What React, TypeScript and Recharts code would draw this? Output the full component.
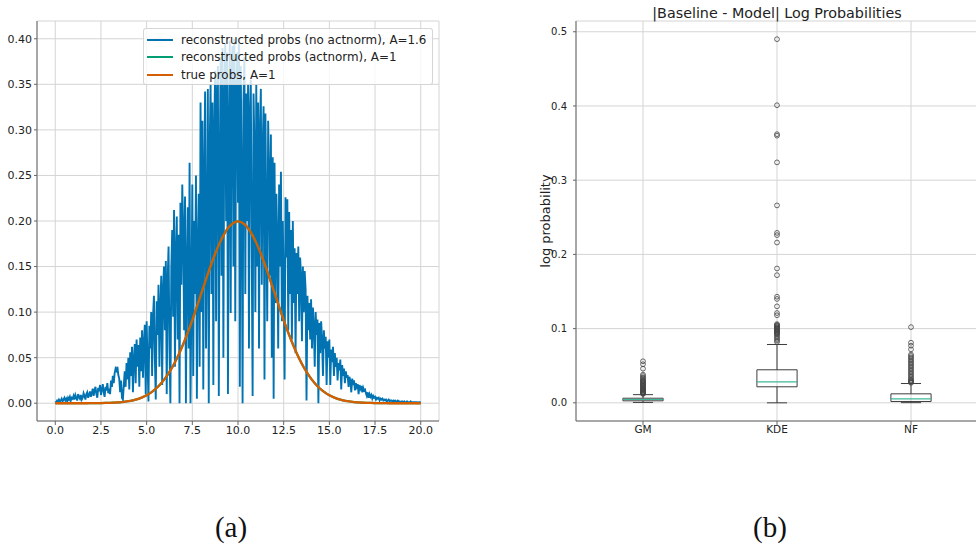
import React from 'react';
import {
  LineChart,
  Line,
  XAxis,
  YAxis,
  CartesianGrid,
  ReferenceArea,
  ReferenceLine,
  ComposedChart,
  Scatter,
} from 'recharts';

// ---------- Left panel (a) ----------
const xStepNoActnorm = 0.05;
const noActnormProbs = [
  0.002,0.001,0.003,0.002,0.004,0.002,0.003,0.005,0.002,0.004,0.006,0.003,0.005,0.002,0.006,0.004,0.007,0.003,0.006,0.005,
  0.008,0.004,0.009,0.006,0.003,0.010,0.007,0.005,0.009,0.004,0.006,0.011,0.008,0.004,0.010,0.012,0.006,0.009,0.013,0.007,
  0.011,0.016,0.008,0.014,0.018,0.010,0.006,0.017,0.013,0.020,0.009,0.015,0.021,0.012,0.007,0.018,0.014,0.022,0.011,0.016,
  0.010,0.025,0.018,0.030,0.022,0.033,0.038,0.036,0.040,0.031,0.027,0.012,0.025,0.006,0.004,0.020,0.035,0.018,0.044,0.026,
  0.050,0.015,0.056,0.030,0.062,0.012,0.048,0.065,0.022,0.070,0.040,0.064,0.018,0.072,0.035,0.080,0.028,0.066,0.086,0.010,
  0.090,0.045,0.002,0.085,0.060,0.100,0.030,0.095,0.118,0.050,0.004,0.112,0.075,0.130,0.040,0.105,0.140,0.020,0.125,0.150,
  0.080,0.156,0.010,0.135,0.172,0.060,0.000,0.148,0.190,0.095,0.212,0.040,0.165,0.205,0.070,0.185,0.000,0.220,0.130,0.240,
  0.190,0.080,0.227,0.000,0.150,0.215,0.060,0.264,0.000,0.110,0.240,0.030,0.200,0.120,0.250,0.005,0.170,0.230,0.040,0.330,
  0.100,0.310,0.015,0.250,0.342,0.060,0.180,0.345,0.000,0.280,0.350,0.120,0.330,0.020,0.300,0.365,0.090,0.340,0.370,0.008,
  0.260,0.380,0.140,0.390,0.050,0.330,0.395,0.200,0.385,0.010,0.300,0.398,0.099,0.360,0.392,0.150,0.400,0.090,0.340,0.385,
  0.220,0.395,0.018,0.370,0.250,0.000,0.330,0.380,0.120,0.340,0.200,0.350,0.060,0.320,0.355,0.170,0.008,0.340,0.280,0.100,
  0.350,0.150,0.330,0.060,0.300,0.345,0.130,0.280,0.326,0.026,0.318,0.200,0.090,0.310,0.250,0.140,0.295,0.050,0.270,0.005,
  0.264,0.110,0.230,0.180,0.060,0.240,0.150,0.254,0.090,0.200,0.130,0.026,0.226,0.160,0.224,0.080,0.210,0.120,0.190,0.070,
  0.200,0.110,0.170,0.055,0.165,0.120,0.172,0.090,0.160,0.140,0.068,0.150,0.100,0.145,0.125,0.003,0.118,0.080,0.110,0.070,
  0.114,0.060,0.105,0.085,0.040,0.100,0.075,0.092,0.000,0.088,0.055,0.090,0.070,0.030,0.080,0.060,0.073,0.020,0.068,0.050,
  0.070,0.020,0.059,0.045,0.062,0.030,0.055,0.040,0.050,0.025,0.044,0.036,0.048,0.015,0.042,0.030,0.038,0.022,0.035,0.028,
  0.031,0.018,0.029,0.024,0.012,0.027,0.020,0.025,0.014,0.022,0.018,0.021,0.010,0.020,0.016,0.019,0.012,0.017,0.014,0.015,
  0.011,0.008,0.012,0.006,0.010,0.007,0.009,0.005,0.008,0.006,0.007,0.004,0.006,0.005,0.006,0.003,0.005,0.004,0.005,0.003,
  0.004,0.003,0.004,0.002,0.003,0.004,0.002,0.003,0.003,0.002,0.003,0.002,0.003,0.002,0.002,0.003,0.002,0.002,0.001,0.002,
  0.002,0.001,0.002,0.001,0.001,0.002,0.001,0.001,0.001,0.002,0.001,0.001,0.001,0.001,0.001,0.001,0.001,0.000,0.001,0.001,
  0.001,
];

const xStepTrue = 0.25;
const trueProbs = [
  0.0000,0.0000,0.0000,0.0000,0.0000,0.0000,0.0000,0.0000,0.0001,0.0001,0.0002,0.0003,0.0004,0.0007,0.0010,0.0015,
  0.0022,0.0032,0.0045,0.0064,0.0088,0.0119,0.0159,0.0209,0.0270,0.0344,0.0431,0.0533,0.0648,0.0775,0.0913,0.1059,
  0.1210,0.1360,0.1506,0.1641,0.1760,0.1859,0.1933,0.1979,0.1995,
  0.1979,0.1933,0.1859,0.1760,0.1641,0.1506,0.1360,0.1210,0.1059,0.0913,0.0775,0.0648,0.0533,0.0431,0.0344,0.0270,
  0.0209,0.0159,0.0119,0.0088,0.0064,0.0045,0.0032,0.0022,0.0015,0.0010,0.0007,0.0004,0.0003,0.0002,0.0001,0.0001,
  0.0000,0.0000,0.0000,0.0000,0.0000,0.0000,0.0000,0.0000,
];
const actnormProbs = [
  0.0000,0.0000,0.0000,0.0000,0.0000,0.0000,0.0000,0.0000,0.0001,0.0001,0.0002,0.0003,0.0004,0.0007,0.0010,0.0015,
  0.0022,0.0032,0.0045,0.0064,0.0088,0.0119,0.0159,0.0209,0.0270,0.0344,0.0431,0.0533,0.0648,0.0775,0.0913,0.1059,
  0.1210,0.1360,0.1506,0.1641,0.1760,0.1859,0.1933,0.1979,0.1995,
  0.1979,0.1933,0.1859,0.1760,0.1641,0.1506,0.1360,0.1210,0.1059,0.0913,0.0775,0.0648,0.0533,0.0431,0.0344,0.0270,
  0.0209,0.0159,0.0119,0.0088,0.0064,0.0045,0.0032,0.0022,0.0015,0.0010,0.0007,0.0004,0.0003,0.0002,0.0001,0.0001,
  0.0000,0.0000,0.0000,0.0000,0.0000,0.0000,0.0000,0.0000,
];

const leftXTicks = [0, 2.5, 5, 7.5, 10, 12.5, 15, 17.5, 20];
const leftYTicks = [0, 0.05, 0.1, 0.15, 0.2, 0.25, 0.3, 0.35, 0.4];

const legendItems = [
  { label: 'reconstructed probs (no actnorm), A=1.6', color: '#0173b2' },
  { label: 'reconstructed probs (actnorm), A=1', color: '#029e73' },
  { label: 'true probs, A=1', color: '#d55e00' },
];

const noActnormData = noActnormProbs.map((y, i) => ({ x: i * xStepNoActnorm, y }));
const trueData = trueProbs.map((y, i) => ({ x: i * xStepTrue, y }));
const actnormData = actnormProbs.map((y, i) => ({ x: i * xStepTrue, y }));

// ---------- Right panel (b) ----------
const categories = ['GM', 'KDE', 'NF'];
const whiskerLow = [0.0005, 0.0, 0.0002];
const q1 = [0.0027, 0.0216, 0.0018];
const median = [0.0045, 0.0283, 0.0054];
const q3 = [0.0062, 0.0445, 0.0121];
const whiskerHigh = [0.011, 0.0786, 0.026];
const gmOutliers = [
  0.056, 0.052, 0.046, 0.038, 0.036, 0.034, 0.033, 0.031, 0.030, 0.029, 0.028, 0.027, 0.026, 0.025, 0.024,
  0.023, 0.022, 0.021, 0.020, 0.019, 0.018, 0.0175, 0.017, 0.016, 0.015, 0.0145, 0.014, 0.013, 0.0125, 0.012,
];
const kdeOutliers = [
  0.490, 0.401, 0.362, 0.360, 0.324, 0.266, 0.229, 0.226, 0.216, 0.181, 0.172, 0.143, 0.140, 0.130, 0.121,
  0.118, 0.106, 0.105, 0.104, 0.103, 0.102, 0.101, 0.100, 0.099, 0.098, 0.097, 0.096, 0.095, 0.094, 0.093,
  0.092, 0.090, 0.088, 0.086, 0.084, 0.082,
];
const nfOutliers = [
  0.102, 0.081, 0.077, 0.072, 0.065, 0.063, 0.061, 0.059, 0.057, 0.055, 0.053, 0.051, 0.049, 0.047, 0.045,
  0.043, 0.041, 0.039, 0.037, 0.035, 0.033, 0.031, 0.030, 0.029, 0.028, 0.027,
];
const rightYTicks = [0, 0.1, 0.2, 0.3, 0.4, 0.5];
const outlierSets = [gmOutliers, kdeOutliers, nfOutliers];
const outlierData = outlierSets.flatMap((vals, i) => vals.map((v) => ({ x: i + 1, y: v })));

const FONT = '"DejaVu Sans", sans-serif';
const TEXT = '#222';
const GRID = '#d4d4d4';
const SPINE = '#666';
const BOXC = '#3d3d3d';
const MEDC = '#3fb899';
const BOX_HALF = 0.15;
const CAP_HALF = 0.075;

const OutlierDot = (p: any) => (
  <circle cx={p.cx} cy={p.cy} r={2.4} fill="none" stroke="#444" strokeWidth={0.8} />
);

export default function App() {
  return (
    <div
      style={{
        position: 'absolute',
        left: 0,
        top: 0,
        width: 976,
        height: 547,
        overflow: 'hidden',
        background: '#fff',
        fontFamily: FONT,
      }}
    >
      {/* Left chart */}
      <div style={{ position: 'absolute', left: 0, top: 0 }}>
        <LineChart width={450} height={440} margin={{ top: 21, right: 11, bottom: 0, left: 0 }}>
          <CartesianGrid stroke={GRID} strokeWidth={1} />
          <XAxis
            dataKey="x"
            type="number"
            domain={[-1, 21]}
            ticks={leftXTicks}
            tickFormatter={(v: number) => v.toFixed(1)}
            height={19}
            tickSize={4}
            tickMargin={1}
            stroke={SPINE}
            tick={{ fill: TEXT, fontSize: 11, fontFamily: FONT }}
            allowDataOverflow
          />
          <YAxis
            type="number"
            domain={[-0.0195, 0.4195]}
            ticks={leftYTicks}
            tickFormatter={(v: number) => v.toFixed(2)}
            width={37}
            tickSize={3}
            tickMargin={2}
            stroke={SPINE}
            tick={{ fill: TEXT, fontSize: 11, fontFamily: FONT }}
            allowDataOverflow
          />
          <ReferenceArea fill="none" stroke={SPINE} strokeWidth={1} ifOverflow="visible" />
          <Line
            data={noActnormData}
            dataKey="y"
            type="linear"
            stroke="#0173b2"
            strokeWidth={1.9}
            dot={false}
            isAnimationActive={false}
          />
          <Line
            data={actnormData}
            dataKey="y"
            type="monotone"
            stroke="#029e73"
            strokeWidth={2.2}
            dot={false}
            isAnimationActive={false}
          />
          <Line
            data={trueData}
            dataKey="y"
            type="monotone"
            stroke="#d55e00"
            strokeWidth={2.3}
            dot={false}
            isAnimationActive={false}
          />
        </LineChart>
        <div
          style={{
            position: 'absolute',
            left: 143,
            top: 28,
            width: 290,
            height: 57,
            boxSizing: 'border-box',
            background: 'rgba(255,255,255,0.8)',
            border: '1px solid rgba(204,204,204,0.8)',
            borderRadius: 3,
            paddingTop: 2,
          }}
        >
          {legendItems.map((it) => (
            <div
              key={it.label}
              style={{ display: 'flex', alignItems: 'center', height: 17.5, fontSize: 11.9, color: TEXT }}
            >
              <div style={{ width: 26, height: 2, background: it.color, marginLeft: 3, marginRight: 8 }} />
              <span style={{ whiteSpace: 'nowrap' }}>{it.label}</span>
            </div>
          ))}
        </div>
      </div>

      {/* Right chart */}
      <div style={{ position: 'absolute', left: 520, top: 0 }}>
        <ComposedChart width={460} height={440} margin={{ top: 21, right: 2, bottom: 0, left: 0 }}>
          <CartesianGrid stroke={GRID} strokeWidth={1} />
          <XAxis
            dataKey="x"
            type="number"
            domain={[0.5, 3.5]}
            ticks={[1, 2, 3]}
            tickFormatter={(v: number) => categories[v - 1]}
            height={19}
            tickSize={4}
            tickMargin={1}
            stroke={SPINE}
            tick={{ fill: TEXT, fontSize: 10.5, fontFamily: FONT }}
            allowDataOverflow
          />
          <YAxis
            dataKey="y"
            type="number"
            domain={[-0.0245, 0.5145]}
            ticks={rightYTicks}
            tickFormatter={(v: number) => v.toFixed(1)}
            width={56}
            tickSize={3}
            tickMargin={6}
            stroke={SPINE}
            tick={{ fill: TEXT, fontSize: 10, fontFamily: FONT }}
            allowDataOverflow
            label={{
              value: 'log probability',
              angle: -90,
              position: 'center',
              dx: -3,
              style: { fontSize: 13, fill: TEXT, fontFamily: FONT, textAnchor: 'middle' },
            }}
          />
          <ReferenceArea fill="none" stroke={SPINE} strokeWidth={1} ifOverflow="visible" />
          {categories.map((c, i) => (
            <ReferenceLine
              key={c + 'wl'}
              segment={[{ x: i + 1, y: whiskerLow[i] }, { x: i + 1, y: q1[i] }]}
              stroke={BOXC}
              strokeWidth={1}
              ifOverflow="visible"
            />
          ))}
          {categories.map((c, i) => (
            <ReferenceLine
              key={c + 'wh'}
              segment={[{ x: i + 1, y: q3[i] }, { x: i + 1, y: whiskerHigh[i] }]}
              stroke={BOXC}
              strokeWidth={1}
              ifOverflow="visible"
            />
          ))}
          {categories.map((c, i) => (
            <ReferenceLine
              key={c + 'cl'}
              segment={[{ x: i + 1 - CAP_HALF, y: whiskerLow[i] }, { x: i + 1 + CAP_HALF, y: whiskerLow[i] }]}
              stroke={BOXC}
              strokeWidth={1}
              ifOverflow="visible"
            />
          ))}
          {categories.map((c, i) => (
            <ReferenceLine
              key={c + 'ch'}
              segment={[{ x: i + 1 - CAP_HALF, y: whiskerHigh[i] }, { x: i + 1 + CAP_HALF, y: whiskerHigh[i] }]}
              stroke={BOXC}
              strokeWidth={1}
              ifOverflow="visible"
            />
          ))}
          {categories.map((c, i) => (
            <ReferenceArea
              key={c + 'box'}
              x1={i + 1 - BOX_HALF}
              x2={i + 1 + BOX_HALF}
              y1={q1[i]}
              y2={q3[i]}
              fill="none"
              fillOpacity={0}
              stroke={BOXC}
              strokeWidth={1}
              ifOverflow="visible"
            />
          ))}
          {categories.map((c, i) => (
            <ReferenceLine
              key={c + 'med'}
              segment={[{ x: i + 1 - BOX_HALF, y: median[i] }, { x: i + 1 + BOX_HALF, y: median[i] }]}
              stroke={MEDC}
              strokeWidth={1.2}
              ifOverflow="visible"
            />
          ))}
          <Scatter
            data={outlierData}
            dataKey="y"
            shape={OutlierDot}
            isAnimationActive={false}
          />
        </ComposedChart>
      </div>

      {/* Title of panel (b) */}
      <div
        style={{
          position: 'absolute',
          left: 577,
          width: 400,
          top: 3,
          textAlign: 'center',
          fontSize: 14.3,
          color: TEXT,
          lineHeight: '20px',
          whiteSpace: 'nowrap',
        }}
      >
        |Baseline - Model| Log Probabilities
      </div>

      {/* Sub-figure captions */}
      <div
        style={{
          position: 'absolute',
          left: 181,
          width: 100,
          top: 507,
          textAlign: 'center',
          fontFamily: '"Liberation Serif", serif',
          fontSize: 29,
          color: '#111',
          lineHeight: '40px',
        }}
      >
        (a)
      </div>
      <div
        style={{
          position: 'absolute',
          left: 720,
          width: 100,
          top: 507,
          textAlign: 'center',
          fontFamily: '"Liberation Serif", serif',
          fontSize: 29,
          color: '#111',
          lineHeight: '40px',
        }}
      >
        (b)
      </div>
    </div>
  );
}
